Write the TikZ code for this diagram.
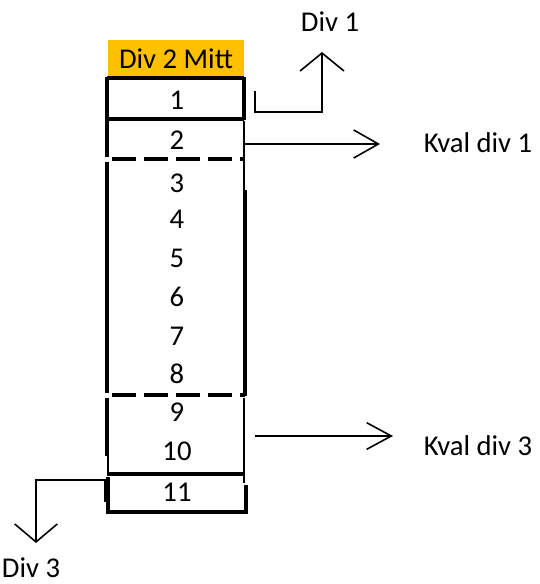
\documentclass[tikz,border=0pt]{standalone}
\usepackage{fontspec}
\setmainfont{Carlito}
\usetikzlibrary{arrows.meta}
\definecolor{hdr}{HTML}{FFC000}
\begin{document}
\begin{tikzpicture}[x=0.75pt,y=-0.75pt,
  lbl/.style={inner sep=0pt,font=\fontsize{21.5}{25}\selectfont},
  side/.style={line width=2.4pt},
  thin side/.style={line width=1.5pt},
  sep/.style={line width=3.4pt},
  dsep/.style={line width=3.4pt,dash pattern=on 18pt off 6pt},
  conn/.style={line width=1.2pt},
]
\useasboundingbox (0,0) rectangle (539,584);
% header
\node[fill=hdr,minimum width=102pt,minimum height=28pt,inner sep=0pt,font=\fontsize{21.5}{25}\selectfont] (hdr) at (176,59) {Div 2 Mitt};
% numbers
\node[lbl] (n1) at (177,100) {1};
\node[lbl] (n2) at (177,140) {2};
\node[lbl] (n3) at (177,183) {3};
\node[lbl] (n4) at (177,219) {4};
\node[lbl] (n5) at (177,258) {5};
\node[lbl] (n6) at (177,297) {6};
\node[lbl] (n7) at (177,336) {7};
\node[lbl] (n8) at (177,374) {8};
\node[lbl] (n9) at (177,412) {9};
\node[lbl] (n10) at (177,451) {10};
\node[lbl] (n11) at (177,492) {11};
% box outline
\draw[side] (107,78) -- (244,78);
\draw[side] (107,77) -- (107,157);
\draw[side] (107,162) -- (107,393);
\draw[side] (107,398) -- (107,456);
\draw[thin side] (108,456) -- (108,476);
\draw[side] (108,477) -- (108,512) -- (246,512) -- (246,485);
\draw[side] (244,77) -- (244,120);
\draw[thin side] (244,121) -- (244,190);
\draw[side] (245,190) -- (245,396);
\draw[thin side] (244,398) -- (244,483);
% separators
\draw[sep] (107,119) -- (244,119);
\draw[dsep] (112,159) -- (245,159);
\draw[dsep] (112,395) -- (245,395);
\draw[sep] (108,474) -- (244,474);
% outside labels
\node[lbl] (d1) at (330,22) {Div 1};
\node[lbl] (k1) at (478,143) {Kval div 1};
\node[lbl] (k3) at (478,446) {Kval div 3};
\node[lbl] (d3) at (31,568) {Div 3};
% connectors
\coordinate (a1) at (255,91);
\coordinate (a1e) at (322,52);
\draw[conn,{Straight Barb[length=13.5pt,width=33pt]}-] (a1e) -- (322,112) -- (255,112) -- (a1);
\coordinate (b1) at (243,144);
\coordinate (b1e) at (380,144);
\draw[conn,-{Straight Barb[length=18.5pt,width=21pt]}] (b1) -- (b1e);
\coordinate (b3) at (255,436);
\coordinate (b3e) at (393,436);
\draw[conn,-{Straight Barb[length=18.5pt,width=20pt]}] (b3) -- (b3e);
\coordinate (c3) at (105,502);
\coordinate (c3e) at (36,543);
\draw[conn,-{Straight Barb[length=13.5pt,width=32pt]}] (c3) -- (105,480) -- (36,480) -- (c3e);
\end{tikzpicture}
\end{document}
